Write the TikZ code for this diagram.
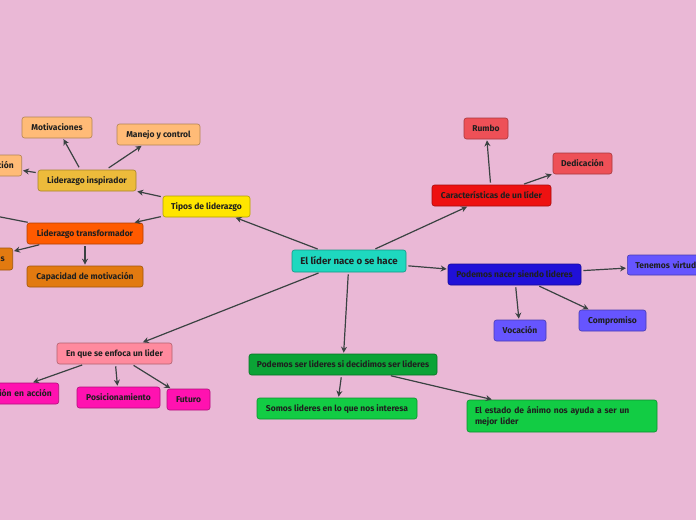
\documentclass[tikz,border=0pt]{standalone}
\usepackage{fontspec}
\setmainfont{Fira Sans}
\usetikzlibrary{arrows.meta}
\definecolor{bg}{HTML}{EAB8D6}
\definecolor{edgec}{HTML}{3A4242}
\definecolor{cturq}{HTML}{1ED8BF}
\definecolor{cyel}{HTML}{FFE500}
\definecolor{cgold}{HTML}{EDBB3B}
\definecolor{cpeach}{HTML}{FFBB77}
\definecolor{corange}{HTML}{FF5A00}
\definecolor{cdorange}{HTML}{E27A10}
\definecolor{cred}{HTML}{EE1111}
\definecolor{clred}{HTML}{EE5057}
\definecolor{cblue}{HTML}{2010D8}
\definecolor{clblue}{HTML}{6655FF}
\definecolor{cgreen}{HTML}{0BA336}
\definecolor{clgreen}{HTML}{12CC44}
\definecolor{cpink}{HTML}{FF8A9E}
\definecolor{cmag}{HTML}{FF12B0}
\tikzset{
  box/.style={draw=#1!70!black, fill=#1, rounded corners=2.5pt, line width=0.6pt,
    inner sep=0pt, minimum height=21pt, font=\bfseries\fontsize{8.5}{11}\selectfont, text=black!88},
  edge/.style={draw=edgec, line width=1.2pt, -{Stealth[length=6pt,width=6pt]}, shorten >=1pt, shorten <=2pt}
}
\begin{document}
\begin{tikzpicture}[x=1pt,y=-1pt]
\fill[bg] (0,0) rectangle (696,520);
\useasboundingbox (0,0) rectangle (696,520);

\node[box=cturq, minimum width=114pt, minimum height=22pt, font=\bfseries\fontsize{9.7}{11}\selectfont] (central) at (349,261) {El líder nace o se hace};

\node[box=cyel, minimum width=87pt] (tipos) at (206.5,206.5) {Tipos de liderazgo};
\node[box=cgold, minimum width=98pt] (insp) at (87,180.5) {Liderazgo inspirador};
\node[box=cpeach, minimum width=70pt] (motiv) at (57,127.5) {Motivaciones};
\node[box=cpeach, minimum width=83pt] (manejo) at (158.5,134.5) {Manejo y control};
\node[box=cpeach, text width=46pt, align=right, inner xsep=8pt, anchor=east] (cion) at (22,165.5) {ción};
\node[box=corange, minimum width=116pt] (transf) at (85,233.5) {Liderazgo transformador};
\node[box=cdorange, minimum height=22pt, text width=46pt, align=right, inner xsep=8pt, anchor=east] (sbox) at (13,259) {s};
\node[box=cdorange, minimum width=116pt] (capac) at (85,276.5) {Capacidad de motivación};
\coordinate (offl) at (-20,213);

\node[box=cred, minimum width=119pt] (caract) at (491.5,195.5) {Características de un líder};
\node[box=clred, minimum width=44pt] (rumbo) at (486,128.5) {Rumbo};
\node[box=clred, minimum width=59pt] (dedic) at (582.5,163.5) {Dedicación};

\node[box=cblue, minimum width=133pt] (nacer) at (514.5,274.5) {Podemos nacer siendo lideres};
\node[box=clblue, minimum height=20pt, text width=90pt, align=left, inner xsep=8pt, anchor=west] (tenemos) at (627,265) {Tenemos virtudes};
\node[box=clblue, minimum width=52pt] (vocacion) at (520,330.5) {Vocación};
\node[box=clblue, minimum width=67pt] (compromiso) at (612.5,320.5) {Compromiso};

\node[box=cgreen, minimum width=188pt] (ser) at (343,364.5) {Podemos ser lideres si decidimos ser lideres};
\node[box=clgreen, minimum width=160pt] (somos) at (337,408.5) {Somos lideres en lo que nos interesa};
\node[box=clgreen, minimum height=32pt, text width=174pt, align=left, inner xsep=8pt] (estado) at (562,416) {El estado de ánimo nos ayuda a ser un\\mejor lider};

\node[box=cpink, minimum width=115pt] (enfoca) at (114.5,353.5) {En que se enfoca un lider};
\node[box=cmag, text width=100pt, align=right, inner xsep=7pt, anchor=east] (accion) at (59,393.5) {ión en acción};
\node[box=cmag, minimum width=83pt] (posic) at (118.5,397.5) {Posicionamiento};
\node[box=cmag, minimum width=43pt] (futuro) at (188.5,399.5) {Futuro};

\coordinate (i1) at (80,169);
\coordinate (i2) at (107,169);

\draw[edge] (central) -- (tipos);
\draw[edge] (tipos) -- (insp);
\draw[edge] (tipos) -- (transf);
\draw[edge] (i1) -- (motiv);
\draw[edge] (i2) -- (manejo);
\draw[edge] (insp) -- (cion);
\draw[edge] (transf) -- (offl);
\draw[edge] (transf) -- (sbox);
\draw[edge] (transf) -- (capac);

\draw[edge] (central) -- (caract);
\draw[edge] (caract) -- (rumbo);
\draw[edge] (caract) -- (dedic);

\draw[edge] (central) -- (nacer);
\draw[edge] (nacer) -- (tenemos);
\draw[edge] (nacer) -- (vocacion);
\draw[edge] (nacer) -- (compromiso);

\draw[edge] (central) -- (ser);
\draw[edge] (ser) -- (somos);
\draw[edge] (ser) -- (estado);

\draw[edge] (central) -- (enfoca);
\draw[edge] (enfoca) -- (accion);
\draw[edge] (enfoca) -- (posic);
\draw[edge] (enfoca) -- (futuro);
\end{tikzpicture}
\end{document}
